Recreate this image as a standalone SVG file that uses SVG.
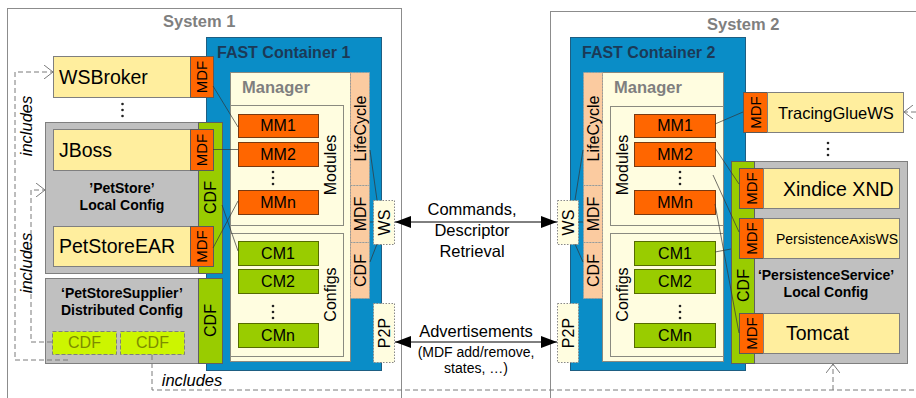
<svg xmlns="http://www.w3.org/2000/svg" width="916" height="398" viewBox="0 0 916 398">
  <style>
    text { font-family: "Liberation Sans", Arial, sans-serif; fill: #000; }
    .sys { fill: none; stroke: #8c8c8c; stroke-width: 1; }
    .systitle { font-size: 16.5px; font-weight: bold; fill: #7f7f7f; }
    .cont { fill: #0A8DC7; stroke: #1E5E82; stroke-width: 1; }
    .conttitle { font-size: 16px; font-weight: bold; fill: #1B3A57; }
    .mgr { fill: #FFFDE0; stroke: #8a8a80; stroke-width: 1; }
    .mgrtitle { font-size: 16.5px; font-weight: bold; fill: #7f7f7f; }
    .mm { fill: #FF6600; stroke: #7a3a10; stroke-width: 1; }
    .cm { fill: #99CC00; stroke: #556b00; stroke-width: 1; }
    .peach { fill: #FBCBA0; stroke: #999; stroke-width: 1; stroke-dasharray: 1.5 1.5; }
    .port { fill: #FFFDE0; stroke: #888; stroke-width: 1; stroke-dasharray: 1.5 1.5; }
    .app { fill: #FFEE9E; stroke: #7f7f7f; stroke-width: 1; }
    .mdf { fill: #FF6600; stroke: #5a5a5a; stroke-width: 1; }
    .cfg { fill: #C0C0C0; stroke: #7f7f7f; stroke-width: 1; }
    .cdf { fill: #99CC00; stroke: #5f5f5f; stroke-width: 1; }
    .dcdf { fill: #CCF500; stroke: #7f7f7f; stroke-width: 1; stroke-dasharray: 4 2; }
    .lbl { font-size: 16px; text-anchor: middle; }
    .app-t { font-size: 19.5px; }
    .tab { font-size: 15px; text-anchor: middle; }
    .cfgname { font-size: 14px; font-weight: bold; text-anchor: middle; }
    .dcdf-t { font-size: 16px; text-anchor: middle; fill: #7D8C00; }
    .dots { fill: #222; }
    .link { fill: none; stroke: #333; stroke-width: 0.7; }
    .incl { fill: none; stroke: #7a7a7a; stroke-width: 1; stroke-dasharray: 5 3; }
    .incl-t { font-size: 16.5px; font-style: italic; text-anchor: middle; }
    .flow { fill: none; stroke: #000; stroke-width: 1; }
    .flow-t { font-size: 16.5px; text-anchor: middle; }
    .flow-s { font-size: 14px; text-anchor: middle; }
  </style>
  <defs>
    <marker id="open" viewBox="0 0 9 14" refX="9" refY="7" markerWidth="9" markerHeight="14" markerUnits="userSpaceOnUse" orient="auto">
      <path d="M0,0 L9,7 L0,14" fill="none" stroke="#7a7a7a" stroke-width="1"/>
    </marker>
    <marker id="solid" viewBox="0 0 16 12" refX="16" refY="6" markerWidth="16" markerHeight="12" markerUnits="userSpaceOnUse" orient="auto-start-reverse">
      <path d="M0,0 L16,6 L0,12 Z" fill="#000"/>
    </marker>
  </defs>

  <rect width="916" height="398" fill="#fff"/>

  <!-- System 1 -->
  <g id="system1">
    <rect class="sys" x="7.5" y="8.5" width="394" height="400"/>
    <text class="systitle" x="163" y="27">System 1</text>
  </g>

  <!-- System 2 -->
  <g id="system2">
    <rect class="sys" x="550.5" y="11.5" width="400" height="400"/>
    <text class="systitle" x="707" y="30">System 2</text>
  </g>

  <!-- FAST Container 1 -->
  <g id="container1">
    <rect class="cont" x="206.5" y="37.5" width="175" height="333"/>
    <text class="conttitle" x="217" y="58">FAST Container 1</text>
    <rect class="mgr" x="230.5" y="72.5" width="120" height="289"/>
    <text class="mgrtitle" x="242" y="93">Manager</text>
    <rect class="peach" x="350.5" y="72.5" width="19" height="113"/>
    <rect class="peach" x="350.5" y="185.5" width="19" height="57"/>
    <rect class="peach" x="350.5" y="242.5" width="19" height="56"/>
    <text class="lbl" transform="translate(360,128.5) rotate(-90)" y="5.5">LifeCycle</text>
    <text class="lbl" transform="translate(360,214) rotate(-90)" y="5.5">MDF</text>
    <text class="lbl" transform="translate(360,270.5) rotate(-90)" y="5.5">CDF</text>
  </g>
  <g id="modules1">
    <rect class="mgr" x="230.5" y="105.5" width="113" height="120"/>
    <text class="lbl" transform="translate(330,165) rotate(-90)" y="5.5">Modules</text>
  </g>
  <g id="mm1-1"><rect class="mm" x="238.5" y="114.5" width="80" height="23"/><text class="lbl" x="278" y="131">MM1</text></g>
  <g id="mm2-1"><rect class="mm" x="238.5" y="142.5" width="80" height="24"/><text class="lbl" x="278" y="160">MM2</text></g>
  <g id="mmdots-1" class="dots"><circle cx="273" cy="172" r="1.3"/><circle cx="273" cy="178" r="1.3"/><circle cx="273" cy="184" r="1.3"/></g>
  <g id="mmn-1"><rect class="mm" x="238.5" y="190.5" width="80" height="24"/><text class="lbl" x="278" y="208">MMn</text></g>
  <g id="configs1">
    <rect class="mgr" x="230.5" y="233.5" width="113" height="123"/>
    <text class="lbl" transform="translate(330,294.5) rotate(-90)" y="5.5">Configs</text>
  </g>
  <g id="cm1-1"><rect class="cm" x="238.5" y="241.5" width="80" height="24"/><text class="lbl" x="278" y="259">CM1</text></g>
  <g id="cm2-1"><rect class="cm" x="238.5" y="269.5" width="80" height="24"/><text class="lbl" x="278" y="287">CM2</text></g>
  <g id="cmdots-1" class="dots"><circle cx="273" cy="306" r="1.3"/><circle cx="273" cy="312" r="1.3"/><circle cx="273" cy="318" r="1.3"/></g>
  <g id="cmn-1"><rect class="cm" x="238.5" y="323.5" width="80" height="24"/><text class="lbl" x="278" y="341">CMn</text></g>
  <g id="ws1"><rect class="port" x="373.5" y="200.5" width="21" height="44"/><text class="lbl" transform="translate(384,222.5) rotate(-90)" y="5.5">WS</text></g>
  <g id="p2p1"><rect class="port" x="373.5" y="303.5" width="21" height="59"/><text class="lbl" font-size="17" transform="translate(384,333) rotate(-90)" y="6">P2P</text></g>

  <!-- FAST Container 2 -->
  <g id="container2">
    <rect class="cont" x="570.5" y="37.5" width="175" height="333"/>
    <text class="conttitle" x="582" y="58">FAST Container 2</text>
    <rect class="mgr" x="602.5" y="72.5" width="121" height="289"/>
    <text class="mgrtitle" x="614" y="93">Manager</text>
    <rect class="peach" x="583.5" y="72.5" width="19" height="113"/>
    <rect class="peach" x="583.5" y="185.5" width="19" height="57"/>
    <rect class="peach" x="583.5" y="242.5" width="19" height="56"/>
    <text class="lbl" transform="translate(593,128.5) rotate(-90)" y="5.5">LifeCycle</text>
    <text class="lbl" transform="translate(593,214) rotate(-90)" y="5.5">MDF</text>
    <text class="lbl" transform="translate(593,270.5) rotate(-90)" y="5.5">CDF</text>
  </g>
  <g id="modules2">
    <rect class="mgr" x="610.5" y="106.5" width="113" height="119"/>
    <text class="lbl" transform="translate(622,165) rotate(-90)" y="5.5">Modules</text>
  </g>
  <g id="mm1-2"><rect class="mm" x="634.5" y="114.5" width="81" height="23"/><text class="lbl" x="675" y="131">MM1</text></g>
  <g id="mm2-2"><rect class="mm" x="634.5" y="142.5" width="81" height="24"/><text class="lbl" x="675" y="160">MM2</text></g>
  <g id="mmdots-2" class="dots"><circle cx="680" cy="172" r="1.3"/><circle cx="680" cy="178" r="1.3"/><circle cx="680" cy="184" r="1.3"/></g>
  <g id="mmn-2"><rect class="mm" x="634.5" y="190.5" width="81" height="24"/><text class="lbl" x="675" y="208">MMn</text></g>
  <g id="configs2">
    <rect class="mgr" x="610.5" y="233.5" width="113" height="123"/>
    <text class="lbl" transform="translate(622,294.5) rotate(-90)" y="5.5">Configs</text>
  </g>
  <g id="cm1-2"><rect class="cm" x="634.5" y="241.5" width="81" height="24"/><text class="lbl" x="675" y="259">CM1</text></g>
  <g id="cm2-2"><rect class="cm" x="634.5" y="269.5" width="81" height="24"/><text class="lbl" x="675" y="287">CM2</text></g>
  <g id="cmdots-2" class="dots"><circle cx="680" cy="306" r="1.3"/><circle cx="680" cy="312" r="1.3"/><circle cx="680" cy="318" r="1.3"/></g>
  <g id="cmn-2"><rect class="cm" x="634.5" y="323.5" width="81" height="24"/><text class="lbl" x="675" y="341">CMn</text></g>
  <g id="ws2"><rect class="port" x="557.5" y="200.5" width="21" height="44"/><text class="lbl" transform="translate(568,222.5) rotate(-90)" y="5.5">WS</text></g>
  <g id="p2p2"><rect class="port" x="557.5" y="303.5" width="21" height="59"/><text class="lbl" font-size="17" transform="translate(568,333) rotate(-90)" y="6">P2P</text></g>

  <!-- System 1 deployed units -->
  <g id="wsbroker">
    <rect class="app" x="53.5" y="56.5" width="137" height="41"/>
    <rect class="mdf" x="190.5" y="56.5" width="23" height="41"/>
    <text class="app-t" x="59" y="83.5">WSBroker</text>
    <text class="tab" transform="translate(202,77) rotate(-90)" y="5">MDF</text>
  </g>
  <g id="wsbroker-dots" class="dots"><circle cx="122.5" cy="104" r="1.3"/><circle cx="122.5" cy="110" r="1.3"/><circle cx="122.5" cy="116" r="1.3"/></g>
  <g id="petstore-config">
    <rect class="cfg" x="45.5" y="122.5" width="153" height="151"/>
    <rect class="cdf" x="198.5" y="122.5" width="24" height="151"/>
    <text class="lbl" transform="translate(210.5,197.5) rotate(-90)" y="5.5">CDF</text>
    <text class="cfgname" x="122" y="193">’PetStore’</text>
    <text class="cfgname" x="122" y="210">Local Config</text>
  </g>
  <g id="jboss">
    <rect class="app" x="53.5" y="129.5" width="137" height="41"/>
    <rect class="mdf" x="190.5" y="129.5" width="23" height="41"/>
    <text class="app-t" x="59" y="156.5">JBoss</text>
    <text class="tab" transform="translate(202,150) rotate(-90)" y="5">MDF</text>
  </g>
  <g id="petstoreear">
    <rect class="app" x="53.5" y="226.5" width="137" height="40"/>
    <rect class="mdf" x="190.5" y="226.5" width="23" height="40"/>
    <text class="app-t" x="59" y="253">PetStoreEAR</text>
    <text class="tab" transform="translate(202,246.5) rotate(-90)" y="5">MDF</text>
  </g>
  <g id="petstoresupplier-config">
    <rect class="cfg" x="45.5" y="278.5" width="153" height="85"/>
    <rect class="cdf" x="198.5" y="278.5" width="24" height="85"/>
    <text class="lbl" transform="translate(210.5,320.5) rotate(-90)" y="5.5">CDF</text>
    <text class="cfgname" x="122" y="298">‘PetStoreSupplier’</text>
    <text class="cfgname" x="122" y="315">Distributed Config</text>
  </g>
  <g id="supplier-cdf-a"><rect class="dcdf" x="52.5" y="331.5" width="64" height="23"/><text class="dcdf-t" x="84.5" y="348">CDF</text></g>
  <g id="supplier-cdf-b"><rect class="dcdf" x="120.5" y="331.5" width="64" height="23"/><text class="dcdf-t" x="152.5" y="348">CDF</text></g>

  <!-- System 2 deployed units -->
  <g id="tracinggluews">
    <rect class="mdf" x="743.5" y="92.5" width="24" height="40"/>
    <rect class="app" x="767.5" y="92.5" width="136" height="40"/>
    <text class="tab" transform="translate(755.5,112.5) rotate(-90)" y="5">MDF</text>
    <text x="778" y="118.5" font-size="16.5">TracingGlueWS</text>
  </g>
  <g id="tracing-dots" class="dots"><circle cx="828" cy="143" r="1.3"/><circle cx="828" cy="149" r="1.3"/><circle cx="828" cy="155" r="1.3"/></g>
  <g id="persistence-config">
    <rect class="cfg" x="754.5" y="161.5" width="153" height="202"/>
    <rect class="cdf" x="731.5" y="161.5" width="23" height="202"/>
    <text class="lbl" transform="translate(743,285.5) rotate(-90)" y="5.5">CDF</text>
    <text class="cfgname" x="826" y="280">‘PersistenceService’</text>
    <text class="cfgname" x="826" y="297">Local Config</text>
  </g>
  <g id="xindice">
    <rect class="mdf" x="739.5" y="168.5" width="24" height="40"/>
    <rect class="app" x="763.5" y="168.5" width="136" height="40"/>
    <text class="tab" transform="translate(751.5,188.5) rotate(-90)" y="5">MDF</text>
    <text class="app-t" x="783" y="195.5">Xindice XND</text>
  </g>
  <g id="persistenceaxisws">
    <rect class="mdf" x="739.5" y="218.5" width="24" height="40"/>
    <rect class="app" x="763.5" y="218.5" width="136" height="40"/>
    <text class="tab" transform="translate(751.5,238.5) rotate(-90)" y="5">MDF</text>
    <text x="776" y="243.5" font-size="14">PersistenceAxisWS</text>
  </g>
  <g id="tomcat">
    <rect class="mdf" x="739.5" y="313.5" width="24" height="40"/>
    <rect class="app" x="763.5" y="313.5" width="136" height="40"/>
    <text class="tab" transform="translate(751.5,333.5) rotate(-90)" y="5">MDF</text>
    <text class="app-t" x="786" y="339.5">Tomcat</text>
  </g>

  <!-- Connectors -->
  <g id="connectors">
    <!-- descriptors to managed modules / configs, container 1 -->
    <path class="link" d="M213,86 L238,127"/>
    <path class="link" d="M213,149.5 L238,149.5"/>
    <path class="link" d="M213,248 L238,201"/>
    <path class="link" d="M222,205 L238,251"/>
    <!-- manager facets to WS, container 1 -->
    <path class="link" d="M370,150 L377,200"/>
    <path class="link" d="M370,222 L373,222"/>
    <path class="link" d="M370,262 L377,244"/>
    <!-- manager facets to WS, container 2 -->
    <path class="link" d="M583,150 L575,200"/>
    <path class="link" d="M583,222 L578,222"/>
    <path class="link" d="M583,262 L575,244"/>
    <!-- managed modules / configs to descriptors, container 2 -->
    <path class="link" d="M715,124 L743,112"/>
    <path class="link" d="M715,148 L739,184"/>
    <path class="link" d="M713,175 L739,232"/>
    <path class="link" d="M715,204 L739,333"/>
    <path class="link" d="M715,252 L731,249"/>

    <!-- includes relations -->
    <polyline class="incl" points="68,360 15,360 15,72 53,72" marker-end="url(#open)"/>
    <polyline class="incl" points="52,342 31,342 31,190 45,190" marker-end="url(#open)"/>
    <polyline class="incl" points="152,355 152,390 916,390"/>
    <polyline class="incl" points="833,390 833,364" marker-end="url(#open)"/>
    <polyline class="incl" points="916,112 904,112" marker-end="url(#open)"/>
    <text class="incl-t" transform="translate(26,126) rotate(-90)" y="6">includes</text>
    <text class="incl-t" transform="translate(26,263) rotate(-90)" y="6">includes</text>
    <text class="incl-t" x="192" y="386">includes</text>

    <!-- inter-container communication -->
    <line class="flow" x1="395" y1="222" x2="557" y2="222" marker-start="url(#solid)" marker-end="url(#solid)"/>
    <line class="flow" x1="395" y1="342" x2="557" y2="342" marker-start="url(#solid)" marker-end="url(#solid)"/>
    <text class="flow-t" x="472" y="215">Commands,</text>
    <text class="flow-t" x="472" y="236">Descriptor</text>
    <text class="flow-t" x="472" y="257">Retrieval</text>
    <text class="flow-t" x="476" y="337">Advertisements</text>
    <text class="flow-s" x="476" y="357">(MDF add/remove,</text>
    <text class="flow-s" x="476" y="373">states, …)</text>
  </g>
</svg>
